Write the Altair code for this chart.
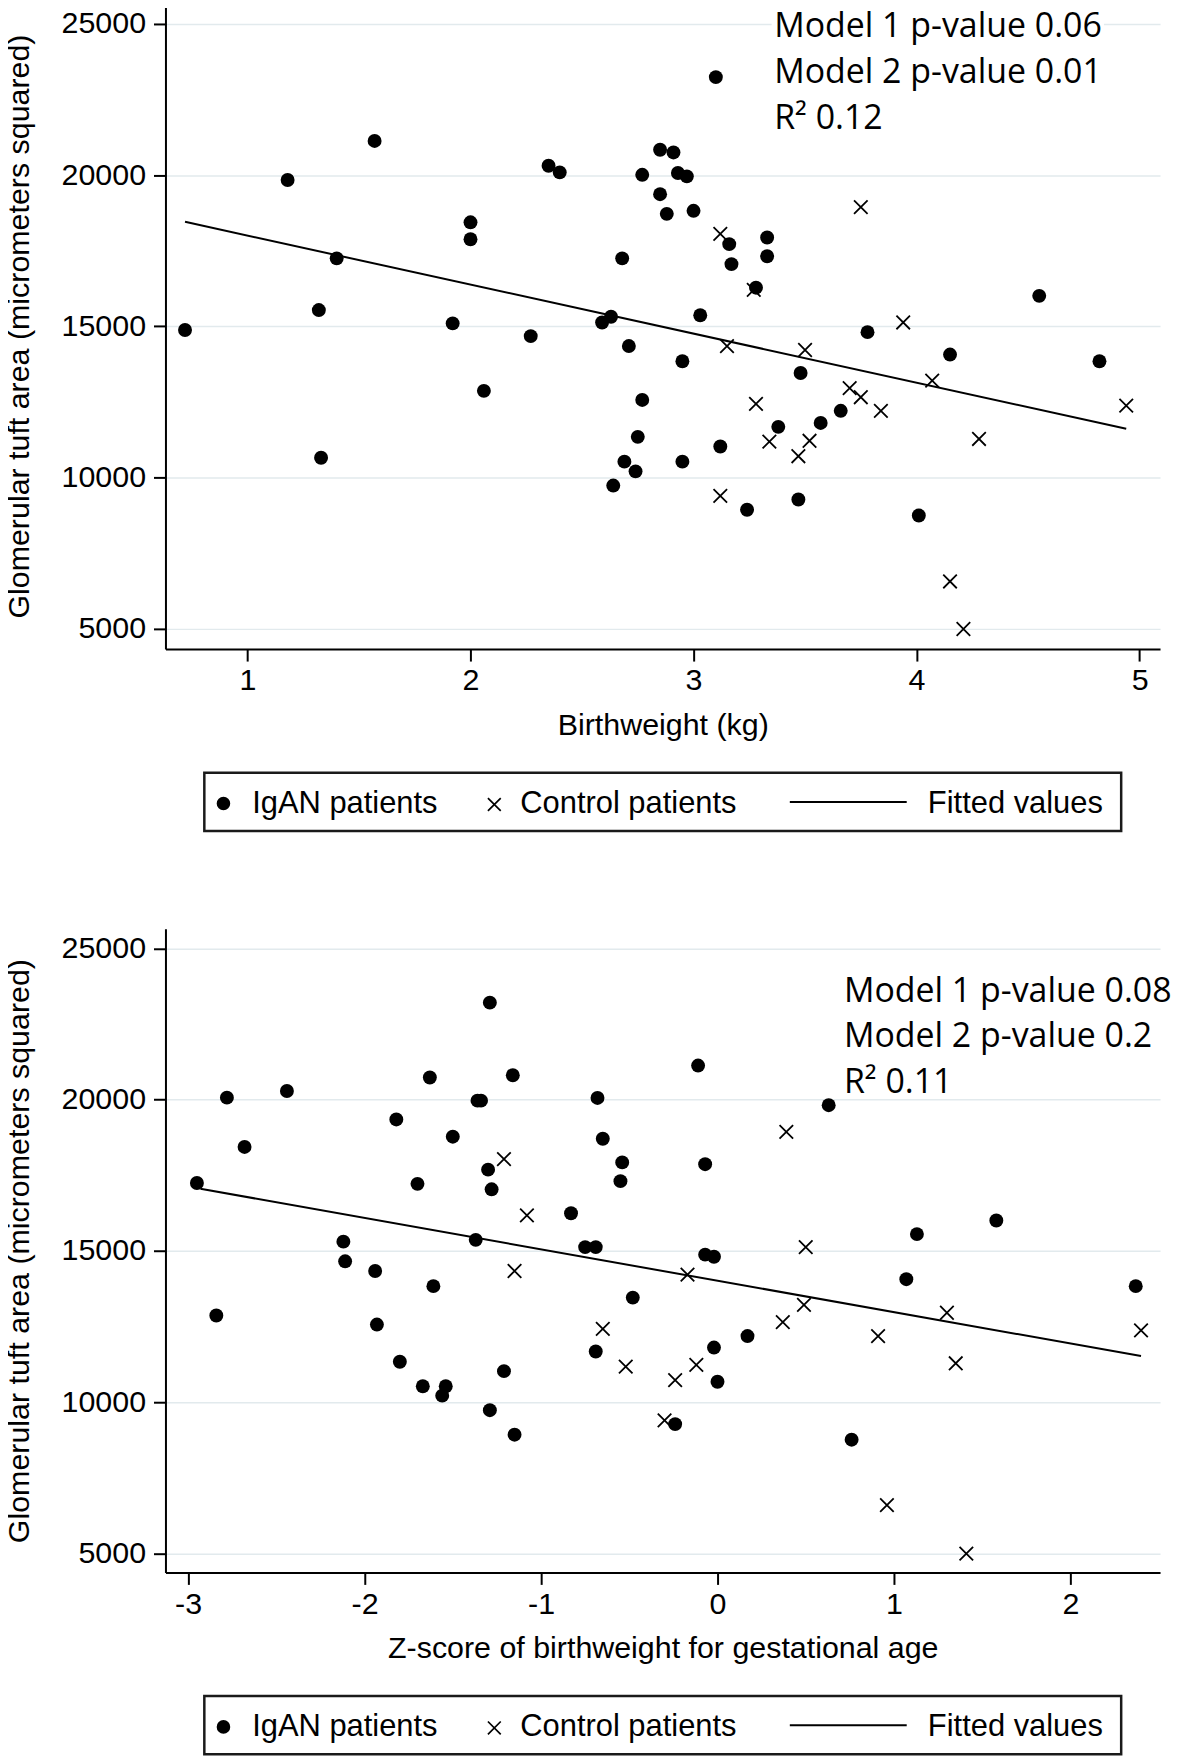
import altair as alt
import pandas as pd

# ---------------- data ----------------
series_names = ["IgAN patients", "Control patients", "Fitted values"]
y_title = "Glomerular tuft area (micrometers squared)"
y_ticks = [5000, 10000, 15000, 20000, 25000]

# Panel 1: birthweight (kg)
bw_title = "Birthweight (kg)"
bw_ticks = [1, 2, 3, 4, 5]
igan_bw = [0.72, 1.18, 1.57, 1.40, 1.32, 1.33, 2.00, 2.00, 1.92, 2.06, 2.27, 2.35, 2.40,
           3.10, 2.85, 2.91, 2.77, 2.93, 2.97, 2.85, 2.88, 3.00, 3.16, 3.17, 3.33, 3.33,
           2.68, 3.28, 2.63, 2.59, 3.03, 2.71, 2.95, 2.77, 2.75, 2.69, 2.74, 2.64, 2.95,
           3.12, 3.24, 3.47, 3.38, 3.57, 3.66, 3.48, 3.78, 4.15, 4.01, 4.55, 4.82]
igan_area_bw = [14880, 19840, 21130, 17250, 15540, 10660, 18440, 17880, 15100, 12870, 14680, 20310, 20090,
                23240, 20840, 20750, 20010, 20070, 19960, 19370, 18720, 18820, 17720, 17060, 17940, 17320,
                17250, 16280, 15320, 15130, 15370, 14350, 13850, 12570, 11350, 10530, 10210, 9740, 10530,
                11030, 8940, 9280, 11680, 11810, 12210, 13460, 14810, 14070, 8750, 16010, 13850]
ctrl_bw = [3.12, 3.75, 3.27, 3.15, 3.50, 3.94, 4.07, 3.70, 3.75, 3.84, 3.28, 3.34, 3.52, 3.47,
           3.12, 4.28, 4.94, 4.15, 4.21]
ctrl_area_bw = [18060, 18940, 16210, 14350, 14220, 15130, 13210, 12960, 12660, 12210, 12440, 11190,
                11220, 10710, 9400, 11280, 12380, 6570, 5000]
fit_bw = [0.72, 4.94]
fit_area_bw = [18456, 11618]
ann_bw = ["Model 1 p-value 0.06", "Model 2 p-value 0.01", "R\u00b2 0.12"]

# Panel 2: z-score of birthweight for gestational age
z_title = "Z-score of birthweight for gestational age"
z_ticks = [-3, -2, -1, 0, 1, 2]
igan_z = [-2.95, -2.78, -2.68, -2.44, -2.84, -2.12, -2.11, -1.94, -1.93, -1.82, -1.80, -1.70, -1.67,
          -1.63, -1.61, -1.54, -1.56, -1.50, -1.37, -1.36, -1.34, -1.29, -1.30, -1.28, -1.29, -1.16,
          -1.21, -1.15, -0.83, -0.68, -0.65, -0.54, -0.55, -0.11, -0.07, 0.63, -0.75, -0.69, -0.07,
          -0.02, -0.48, -0.69, -0.02, 0.00, 0.17, -0.24, 0.76, 1.13, 1.07, 1.58, 2.37]
igan_area_z = [17250, 20070, 18440, 20290, 12870, 15310, 14660, 14340, 12570, 19350, 11340, 17220, 10530,
               20735, 13840, 10530, 10220, 18780, 15370, 19970, 19970, 23210, 17690, 17040, 9740, 20810,
               11030, 8930, 16250, 20060, 18710, 17930, 17310, 21130, 17870, 19820, 15130, 15130, 14880,
               14810, 13460, 11680, 11810, 10680, 12190, 9280, 8765, 15560, 14070, 16010, 13840]
ctrl_z = [-1.21, -1.08, -1.15, 0.39, 0.50, -0.17, 0.49, 0.37, -0.65, 0.91, 1.30, 2.40, 1.35, -0.52,
          -0.12, -0.24, -0.30, 0.96, 1.41]
ctrl_area_z = [18040, 16180, 14340, 18940, 15130, 14220, 13220, 12650, 12430, 12190, 12960, 12380,
               11290, 11180, 11240, 10735, 9400, 6600, 5000]
fit_z = [-2.93, 2.40]
fit_area_z = [17059, 11529]
ann_z = ["Model 1 p-value 0.08", "Model 2 p-value 0.2", "R\u00b2 0.11"]

# ---------------- styling ----------------
FONT = "Liberation Sans"
ANN_FONT = "Open Sans"
X_SHAPE = "M-1,-1L1,1M-1,1L1,-1"
W = 998


def panel(ix, iy, cx, cy, fx, fy, xdom, ydom, xticks, xtitle, ann, ann_x, ann_ys, H, mask=None):
    xs = alt.Scale(domain=xdom, nice=False, zero=False)
    ys = alt.Scale(domain=ydom, nice=False, zero=False)
    xax = alt.Axis(values=xticks, title=xtitle, grid=False, labelExpr="toString(datum.value)")
    yax = alt.Axis(values=y_ticks, title=y_title, grid=True, format="d")

    d_i = pd.DataFrame({"x": ix, "y": iy})
    d_c = pd.DataFrame({"x": cx, "y": cy})
    d_f = pd.DataFrame({"x": fx, "y": fy})
    one = pd.DataFrame({"k": [0]})

    layers = []
    if mask is not None:
        # white backing behind the annotation, hiding the grid line as in the original
        layers.append(alt.Chart(one).mark_rect(color="white").encode(
            x=alt.X("mx:Q", scale=xs, axis=xax), x2=alt.datum(mask[1]),
            y=alt.Y("my:Q", scale=ys, axis=yax), y2=alt.datum(mask[3])
        ).transform_calculate(mx=str(mask[0]), my=str(mask[2])))

    igan = alt.Chart(d_i).mark_point(filled=True, shape="circle", size=195, color="black",
                                     opacity=1).encode(
        x=alt.X("x:Q", scale=xs, axis=xax), y=alt.Y("y:Q", scale=ys, axis=yax))
    ctrl = alt.Chart(d_c).mark_point(filled=False, shape=X_SHAPE, size=185, color="black",
                                     strokeWidth=1.8, opacity=1).encode(
        x=alt.X("x:Q", scale=xs), y=alt.Y("y:Q", scale=ys))
    fit = alt.Chart(d_f).mark_line(color="black", strokeWidth=2).encode(
        x=alt.X("x:Q", scale=xs), y=alt.Y("y:Q", scale=ys))
    layers += [igan, ctrl, fit]

    for line, yv in zip(ann, ann_ys):
        layers.append(alt.Chart(one).mark_text(text=line, align="left", baseline="alphabetic",
                                               font=ANN_FONT, fontSize=34, color="black").encode(
            x=alt.datum(ann_x), y=alt.datum(yv)))

    # legend below the plot
    layers.append(alt.Chart(one).mark_rect(fill="white", fillOpacity=0, stroke="#1a1a1a",
                                           strokeWidth=2.5).encode(
        x=alt.value(39), x2=alt.value(959), y=alt.value(H + 124), y2=alt.value(H + 182.5)))
    layers.append(alt.Chart(one).mark_point(filled=True, shape="circle", size=185, color="black",
                                            opacity=1).encode(x=alt.value(58.2), y=alt.value(H + 155)))
    layers.append(alt.Chart(one).mark_point(filled=False, shape=X_SHAPE, size=165, color="black",
                                            strokeWidth=1.7, opacity=1).encode(
        x=alt.value(330), y=alt.value(H + 156)))
    layers.append(alt.Chart(one).mark_rule(color="black", strokeWidth=2).encode(
        x=alt.value(626.5), x2=alt.value(743.8), y=alt.value(H + 153.4)))
    for name, xp in zip(series_names, [87, 356, 765]):
        layers.append(alt.Chart(one).mark_text(text=name, align="left", baseline="alphabetic",
                                               font=FONT, fontSize=31, color="black").encode(
            x=alt.value(xp), y=alt.value(H + 164)))

    return alt.layer(*layers).properties(width=W, height=H)


H1 = 648.3
H2 = 645.8
top = panel(igan_bw, igan_area_bw, ctrl_bw, ctrl_area_bw, fit_bw, fit_area_bw,
            [0.6323, 5.0916], [4335, 25688], bw_ticks, bw_title, ann_bw, 3.3615,
            [24552, 23037, 21522], H1, mask=(3.35, 4.84, 24250, 25450))
bottom = panel(igan_z, igan_area_z, ctrl_z, ctrl_area_z, fit_z, fit_area_z,
               [-3.1282, 2.5077], [4377, 25649], z_ticks, z_title, ann_z, 0.7164,
               [23231, 21729, 20214], H2)

chart = alt.vconcat(top, bottom, spacing=96).properties(
    padding={"top": -8, "left": -4, "right": 0, "bottom": 0}
).configure_view(stroke=None).configure_axis(
    labelFont=FONT, labelFontSize=30.5, labelColor="black",
    titleFont=FONT, titleFontSize=30.5, titleFontWeight="normal", titleColor="black",
    domainColor="black", domainWidth=2, tickColor="black", tickWidth=2, tickSize=12,
    gridColor="#e2eaed", gridWidth=1.5
).configure_axisX(labelPadding=5, titlePadding=14).configure_axisY(
    labelPadding=8, titlePadding=26.6)

chart.save("out.html", embed_options={"renderer": "svg", "actions": False})
